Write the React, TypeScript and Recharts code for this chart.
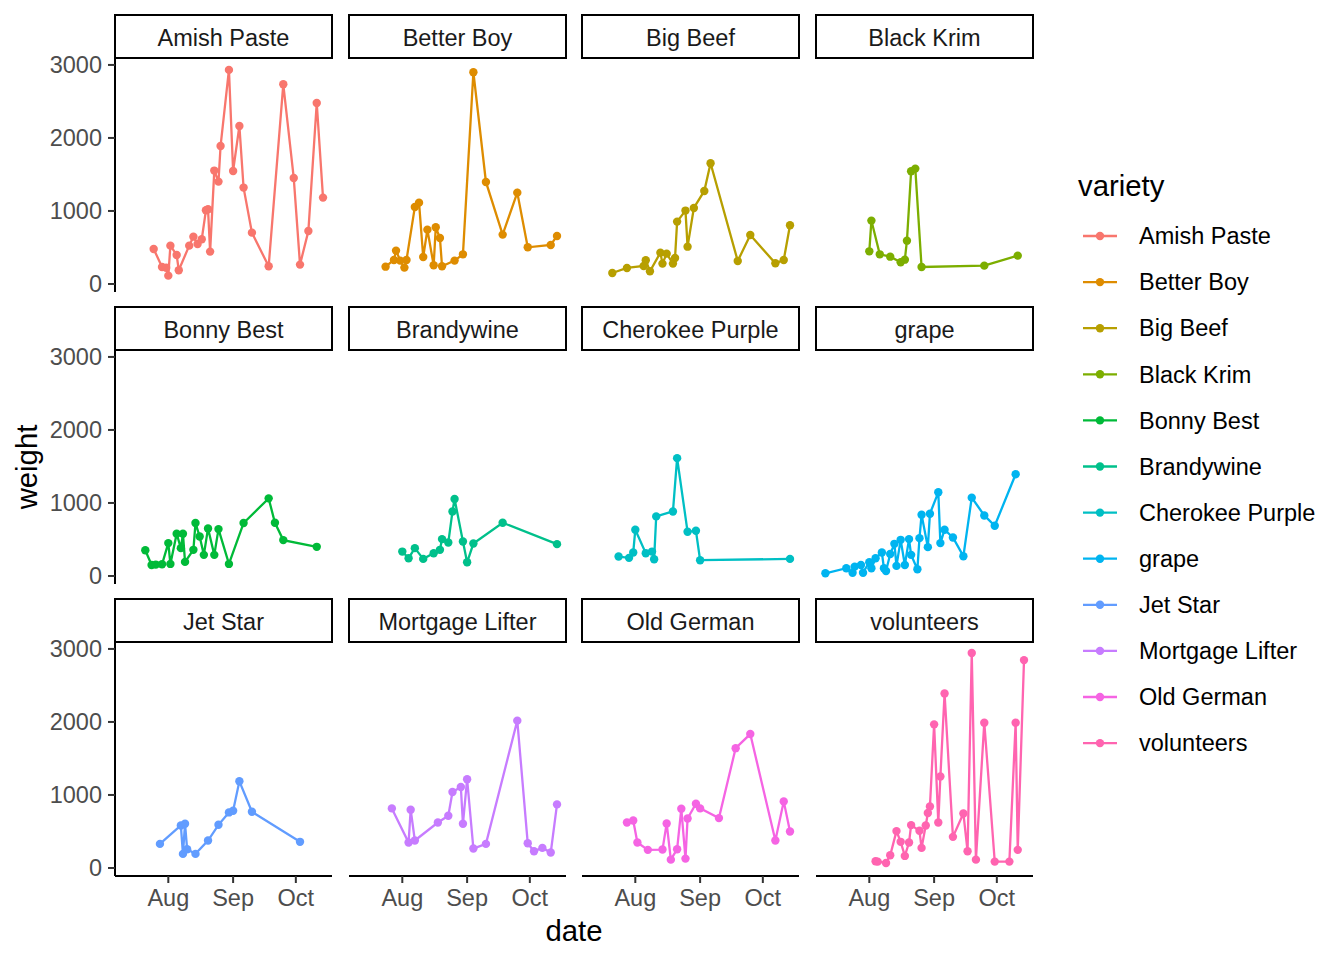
import React from 'react';
import { LineChart, Line, XAxis, YAxis } from 'recharts';

const FONT = '"Liberation Sans", Arial, Helvetica, sans-serif';

// ---- categories ----
const varieties = [
  'Amish Paste', 'Better Boy', 'Big Beef', 'Black Krim',
  'Bonny Best', 'Brandywine', 'Cherokee Purple', 'grape',
  'Jet Star', 'Mortgage Lifter', 'Old German', 'volunteers',
];
const varietyColors = [
  '#F8766D', '#DE8C00', '#B79F00', '#7CAE00',
  '#00BA38', '#00C08B', '#00BFC4', '#00B4F0',
  '#619CFF', '#C77CFF', '#F564E3', '#FF64B0',
];

// ---- series (day = days since Aug 1, weight in grams) ----
const amishPasteDays = [-7, -3, -1, 0, 1, 4, 5, 10, 12, 14, 16, 18, 19, 20, 22, 24, 25, 29, 31, 34, 36, 40, 48, 55, 60, 63, 67, 71, 74];
const amishPasteWeight = [479, 233, 223, 114, 525, 397, 187, 525, 648, 548, 612, 1009, 1023, 443, 1553, 1402, 1890, 2932, 1548, 2164, 1320, 703, 242, 2735, 1452, 265, 726, 2479, 1183];

const betterBoyDays = [-8, -4, -3, -1, 1, 2, 6, 8, 10, 12, 15, 16, 18, 19, 25, 29, 34, 40, 48, 55, 60, 71, 74];
const betterBoyWeight = [237, 329, 457, 320, 224, 329, 1055, 1114, 370, 744, 256, 776, 630, 242, 320, 406, 2900, 1397, 676, 1251, 502, 534, 658];

const bigBeefDays = [-11, -4, 4, 5, 7, 12, 13, 15, 18, 19, 20, 24, 25, 28, 33, 36, 49, 55, 67, 71, 74];
const bigBeefWeight = [150, 219, 246, 324, 174, 429, 279, 416, 279, 356, 854, 1005, 511, 1041, 1274, 1653, 315, 671, 283, 329, 804];

const blackKrimDays = [0, 1, 5, 10, 15, 17, 18, 20, 22, 25, 55, 71];
const blackKrimWeight = [447, 868, 406, 374, 297, 333, 593, 1543, 1580, 233, 251, 388];

const bonnyBestDays = [-11, -8, -6, -3, 0, 1, 4, 6, 7, 8, 12, 13, 15, 17, 19, 22, 24, 29, 36, 48, 51, 55, 71];
const bonnyBestWeight = [353, 151, 156, 160, 450, 165, 578, 381, 578, 193, 358, 725, 541, 289, 651, 289, 642, 165, 725, 1063, 729, 491, 399];

const brandywineDays = [0, 3, 6, 10, 15, 18, 19, 22, 24, 25, 29, 31, 34, 48, 74];
const brandywineWeight = [334, 243, 381, 234, 312, 358, 505, 458, 884, 1055, 472, 188, 444, 729, 436];

const cherokeePurpleDays = [-8, -3, -1, 0, 5, 8, 9, 10, 18, 20, 25, 29, 31, 74];
const cherokeePurpleWeight = [266, 248, 321, 633, 312, 334, 229, 816, 884, 1614, 605, 619, 216, 234];

const grapeDays = [-21, -11, -8, -7, -4, -3, 0, 1, 3, 6, 7, 8, 10, 12, 13, 15, 17, 19, 20, 23, 24, 25, 28, 29, 33, 34, 36, 40, 45, 49, 55, 60, 70];
const grapeWeight = [37, 106, 45, 128, 151, 45, 188, 106, 243, 321, 106, 69, 300, 440, 138, 495, 151, 505, 289, 92, 518, 839, 395, 853, 1146, 450, 633, 527, 271, 1073, 829, 688, 1393];

const jetStarDays = [-4, 6, 7, 8, 9, 13, 19, 24, 29, 31, 34, 40, 63];
const jetStarWeight = [330, 582, 193, 605, 257, 193, 376, 591, 761, 784, 1187, 770, 358];

const mortgageLifterDays = [-5, 3, 4, 6, 17, 22, 24, 28, 29, 31, 34, 40, 55, 60, 63, 67, 71, 74];
const mortgageLifterWeight = [816, 348, 798, 376, 623, 715, 1041, 1110, 605, 1215, 266, 330, 2018, 339, 228, 275, 211, 871];

const oldGermanDays = [-4, -1, 1, 6, 13, 15, 17, 20, 22, 24, 25, 29, 31, 40, 48, 55, 67, 71, 74];
const oldGermanWeight = [623, 651, 348, 248, 252, 610, 114, 257, 811, 128, 678, 880, 816, 683, 1641, 1834, 376, 912, 499];

const volunteersDays = [3, 4, 8, 10, 13, 15, 17, 19, 20, 24, 25, 27, 28, 29, 31, 33, 34, 36, 40, 45, 47, 49, 51, 55, 60, 67, 70, 71, 74];
const volunteersWeight = [92, 87, 69, 174, 505, 358, 165, 348, 587, 509, 275, 582, 752, 843, 1967, 623, 1252, 2389, 426, 747, 230, 2944, 114, 1990, 87, 87, 1990, 248, 2847];

const seriesDays = [
  amishPasteDays, betterBoyDays, bigBeefDays, blackKrimDays,
  bonnyBestDays, brandywineDays, cherokeePurpleDays, grapeDays,
  jetStarDays, mortgageLifterDays, oldGermanDays, volunteersDays,
];
const seriesWeight = [
  amishPasteWeight, betterBoyWeight, bigBeefWeight, blackKrimWeight,
  bonnyBestWeight, brandywineWeight, cherokeePurpleWeight, grapeWeight,
  jetStarWeight, mortgageLifterWeight, oldGermanWeight, volunteersWeight,
];

// ---- ticks ----
const monthTicks = [0, 31, 61];
const monthLabels = ['Aug', 'Sep', 'Oct'];
const weightTicks = [0, 1000, 2000, 3000];

// ---- layout ----
const X_DOMAIN: [number, number] = [-25.5, 78.3];
const Y_DOMAIN: [number, number] = [-110, 3095];
const PANEL_W = 217;
const PANEL_H = 234;
const STRIP_H = 43;
const colLeft = [115, 349, 582, 816];
const rowTop = [58, 350, 642];
const Y_AXIS_W = 70;
const X_AXIS_H = 50;
const PAD = 20;
const TICK_FS = 23.5;
const TITLE_FS = 29.3;

function Panel({ idx }: { idx: number }) {
  const row = Math.floor(idx / 4);
  const col = idx % 4;
  const showY = col === 0;
  const showX = row === 2;
  const color = varietyColors[idx];
  const data = seriesDays[idx].map((d, i) => ({ d, w: seriesWeight[idx][i] }));
  const w = PANEL_W + (showY ? Y_AXIS_W : 0) + PAD;
  const h = PANEL_H + PAD + (showX ? X_AXIS_H : PAD);
  return (
    <div style={{ position: 'absolute', left: colLeft[col] - (showY ? Y_AXIS_W : 0), top: rowTop[row] - PAD, width: w, height: h }}>
      <LineChart width={w} height={h} data={data} margin={{ top: PAD, right: PAD, bottom: showX ? 0 : PAD, left: 0 }}>
        <XAxis
          type="number"
          dataKey="d"
          domain={X_DOMAIN}
          allowDataOverflow
          ticks={monthTicks}
          interval={0}
          tickFormatter={(v: number) => monthLabels[monthTicks.indexOf(v)] ?? ''}
          hide={!showX}
          height={X_AXIS_H}
          axisLine={{ stroke: '#000000', strokeWidth: 2 }}
          tickLine={{ stroke: '#333333', strokeWidth: 2 }}
          tickSize={7}
          tickMargin={6}
          tick={{ fill: '#4D4D4D', fontSize: TICK_FS, fontFamily: FONT }}
        />
        <YAxis
          type="number"
          dataKey="w"
          domain={Y_DOMAIN}
          allowDataOverflow
          ticks={weightTicks}
          interval={0}
          hide={!showY}
          width={Y_AXIS_W}
          axisLine={{ stroke: '#000000', strokeWidth: 2 }}
          tickLine={{ stroke: '#333333', strokeWidth: 2 }}
          tickSize={7}
          tickMargin={6}
          tick={{ fill: '#4D4D4D', fontSize: TICK_FS, fontFamily: FONT }}
        />
        <Line
          type="linear"
          dataKey="w"
          stroke={color}
          strokeWidth={2.3}
          dot={{ r: 4.2, fill: color, stroke: color, strokeWidth: 0 }}
          activeDot={false}
          isAnimationActive={false}
        />
      </LineChart>
    </div>
  );
}

function Overlay() {
  return (
    <svg width={1344} height={960} style={{ position: 'absolute', left: 0, top: 0 }}>
      {varieties.map((v, i) => {
        const row = Math.floor(i / 4);
        const col = i % 4;
        const top = rowTop[row] - STRIP_H;
        return (
          <g key={v}>
            <rect x={colLeft[col]} y={top} width={PANEL_W} height={STRIP_H} fill="#FFFFFF" stroke="#000000" strokeWidth={2} />
            <text x={colLeft[col] + PANEL_W / 2} y={top + STRIP_H / 2 + 1} dy="0.35em" textAnchor="middle" fontFamily={FONT} fontSize={TICK_FS} fill="#1A1A1A">{v}</text>
          </g>
        );
      })}
      <text x={27} y={467} dy="0.35em" textAnchor="middle" transform="rotate(-90, 27, 467)" fontFamily={FONT} fontSize={TITLE_FS} fill="#000000">weight</text>
      <text x={574} y={931} dy="0.35em" textAnchor="middle" fontFamily={FONT} fontSize={TITLE_FS} fill="#000000">date</text>
      <text x={1078} y={186} dy="0.35em" fontFamily={FONT} fontSize={TITLE_FS} fill="#000000">variety</text>
      {varieties.map((v, i) => {
        const y = 236 + i * 46.1;
        return (
          <g key={'lg' + v}>
            <line x1={1083} x2={1117} y1={y} y2={y} stroke={varietyColors[i]} strokeWidth={2.3} />
            <circle cx={1100} cy={y} r={4.2} fill={varietyColors[i]} />
            <text x={1139} y={y} dy="0.35em" fontFamily={FONT} fontSize={TICK_FS} fill="#000000">{v}</text>
          </g>
        );
      })}
    </svg>
  );
}

export default function App() {
  return (
    <div style={{ position: 'absolute', left: 0, top: 0, width: 1344, height: 960, background: '#FFFFFF', fontFamily: FONT }}>
      <Overlay />
      {varieties.map((v, i) => (
        <Panel key={v} idx={i} />
      ))}
    </div>
  );
}
